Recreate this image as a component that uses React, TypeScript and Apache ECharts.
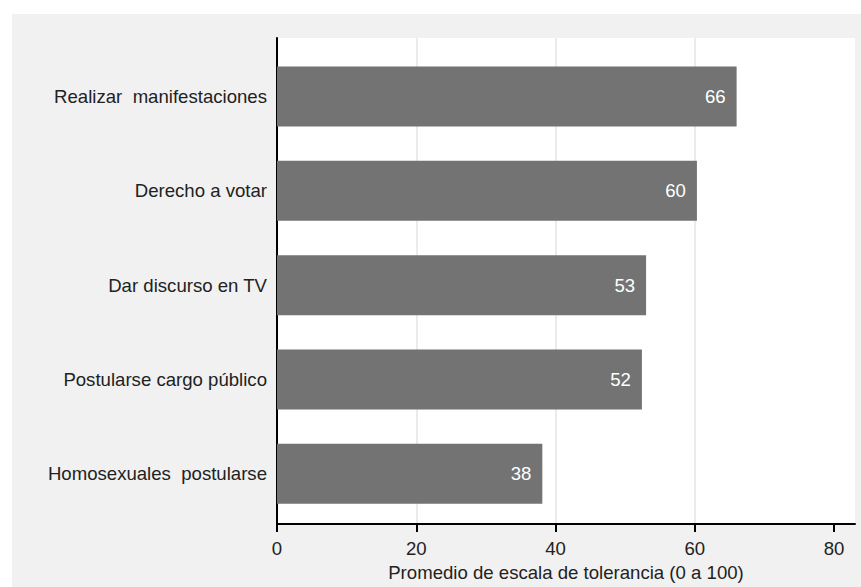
import React, { useEffect, useRef } from "react";
import * as echarts from "echarts";

const categories = [
  "Realizar  manifestaciones",
  "Derecho a votar",
  "Dar discurso en TV",
  "Postularse cargo público",
  "Homosexuales  postularse",
];
const values = [66.0, 60.3, 53.0, 52.4, 38.1];
const xTicks = [0, 20, 40, 60, 80];
const xTitle = "Promedio de escala de tolerancia (0 a 100)";

const FONT = "Liberation Sans, Arial, Helvetica, sans-serif";
const FS = 18.6;

export default function App() {
  const ref = useRef<HTMLDivElement>(null);
  useEffect(() => {
    if (!ref.current) return;
    const chart = echarts.init(ref.current, undefined, { renderer: "svg" });
    chart.setOption({
      animation: false,
      backgroundColor: "#f1f1f1",
      textStyle: { fontFamily: FONT },
      grid: [
        {
          left: 265,
          right: 6,
          top: 24,
          bottom: 55,
          show: true,
          backgroundColor: "#ffffff",
          borderWidth: 0,
        },
        { left: 265, right: 6, top: 35.3, bottom: 66 },
      ],
      xAxis: [
        {
          gridIndex: 0,
          type: "value",
          min: 0,
          max: 83,
          interval: 20,
          axisLine: { show: true, lineStyle: { color: "#000", width: 2 } },
          axisTick: {
            show: true,
            length: 8,
            customValues: xTicks,
            lineStyle: { color: "#000", width: 2 },
          },
          axisLabel: {
            customValues: xTicks,
            color: "#222",
            fontSize: FS,
            margin: 15,
            fontFamily: FONT,
          },
          splitLine: {
            show: true,
            showMinLine: false,
            showMaxLine: false,
            lineStyle: { color: "#ebebeb", width: 2 },
          },
          name: xTitle,
          nameLocation: "middle",
          nameGap: 38,
          nameTextStyle: { color: "#222", fontSize: FS, fontFamily: FONT },
        },
        {
          gridIndex: 1,
          type: "value",
          min: 0,
          max: 83,
          show: false,
        },
      ],
      yAxis: [
        {
          gridIndex: 0,
          type: "value",
          axisLine: { show: true, lineStyle: { color: "#000", width: 2 } },
          axisTick: { show: false },
          axisLabel: { show: false },
          splitLine: { show: false },
        },
        {
          gridIndex: 1,
          type: "category",
          data: categories,
          inverse: true,
          axisLine: { show: false },
          axisTick: { show: false },
          axisLabel: {
            color: "#222",
            fontSize: FS,
            margin: 10,
            fontFamily: FONT,
          },
        },
      ],
      series: [
        {
          type: "bar",
          xAxisIndex: 1,
          yAxisIndex: 1,
          data: values,
          barWidth: 60,
          itemStyle: { color: "#737373" },
          label: {
            show: true,
            position: "insideRight",
            distance: 11,
            color: "#ffffff",
            fontSize: FS,
            fontFamily: FONT,
            formatter: (p: any) => String(Math.round(p.value)),
          },
        },
      ],
    });
    return () => chart.dispose();
  }, []);
  return (
    <div
      ref={ref}
      style={{ position: "absolute", left: 12, top: 14, width: 849, height: 573 }}
    />
  );
}
